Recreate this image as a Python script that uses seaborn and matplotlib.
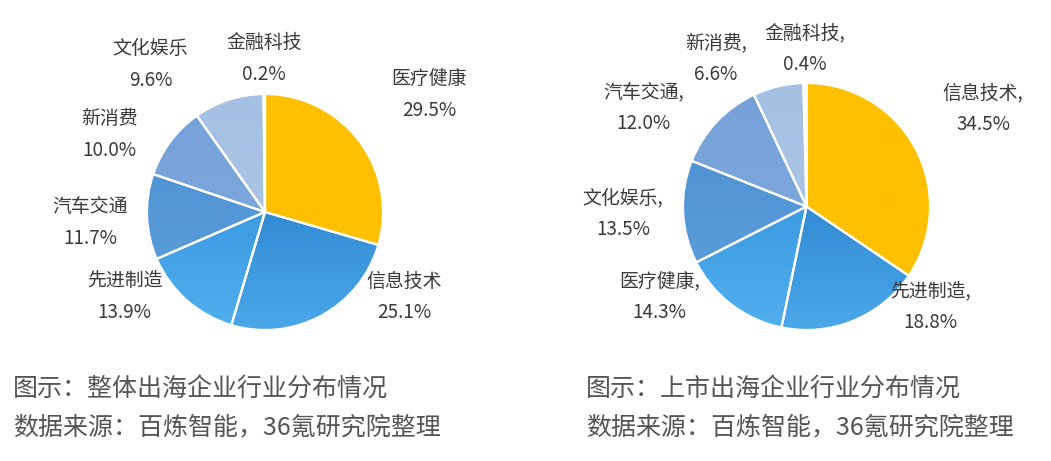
import numpy as np
import matplotlib
matplotlib.use("Agg")
import matplotlib.pyplot as plt
import matplotlib.colors as mcolors
import seaborn as sns

# ---------------- data ----------------
left_names = ["医疗健康", "信息技术", "先进制造", "汽车交通", "新消费", "文化娱乐", "金融科技"]
left_values = [29.5, 25.1, 13.9, 11.7, 10.0, 9.6, 0.2]
left_title = "图示：整体出海企业行业分布情况"

right_names = ["信息技术,", "先进制造,", "医疗健康,", "文化娱乐,", "汽车交通,", "新消费,", "金融科技,"]
right_values = [34.5, 18.8, 14.3, 13.5, 12.0, 6.6, 0.4]
right_title = "图示：上市出海企业行业分布情况"

source_text = "数据来源：百炼智能，36氪研究院整理"

# ---------------- style ----------------
sns.set_theme(style="white")
plt.rcParams["font.family"] = ["Noto Sans CJK SC", "DejaVu Sans"]

# gradient colours per slice position (top colour, bottom colour)
slice_colors = [
    ("#FFC000", "#FFC000"),
    ("#1A6FBE", "#4AA8EA"),
    ("#2484D2", "#52B0F0"),
    ("#4A8CCF", "#5FA2DE"),
    ("#76A1D8", "#82ACDF"),
    ("#A6C0E3", "#AFC8E8"),
    ("#CBD6EA", "#CFDAEC"),
]

# label anchor positions in units of pie radius (layout only)
left_label_pos = [(1.39, 1.00), (1.18, -0.72), (-1.19, -0.72), (-1.48, -0.09),
                  (-1.32, 0.66), (-0.97, 1.25), (-0.01, 1.305)]
right_label_pos = [(1.43, 0.79), (1.00, -0.81), (-1.19, -0.73), (-1.486, -0.057),
                   (-1.32, 0.80), (-0.733, 1.20), (-0.01, 1.28)]

LABEL_COLOR = "#3a3a3a"
CAPTION_COLOR = "#555555"

W, H = 1051, 461
fig = plt.figure(figsize=(W / 100, H / 100), dpi=100)
fig.patch.set_facecolor("white")


def draw_pie(cx, cy, r, values, names, label_pos):
    ax = fig.add_axes([(cx - r) / W, (H - cy - r) / H, 2 * r / W, 2 * r / H])
    ax.set_aspect("equal")
    ax.axis("off")
    wedges, _ = ax.pie(values, startangle=90, counterclock=False, radius=1,
                       colors=[c[0] for c in slice_colors],
                       wedgeprops=dict(linewidth=0), frame=False)
    grad = np.linspace(0, 1, 256).reshape(-1, 1)
    for w, (top, bot) in zip(wedges, slice_colors):
        cmap = mcolors.LinearSegmentedColormap.from_list("g", [top, bot])
        im = ax.imshow(grad, cmap=cmap, extent=(-1, 1, -1, 1), origin="upper",
                       aspect="auto", zorder=2, interpolation="bilinear")
        im.set_clip_path(w)
    ax.pie(values, startangle=90, counterclock=False, radius=1,
           colors=["none"] * len(values),
           wedgeprops=dict(linewidth=1.6, edgecolor="white", zorder=3), frame=False)
    ax.set_xlim(-1, 1)
    ax.set_ylim(-1, 1)
    half = 16.0 / r
    for name, val, (lx, ly) in zip(names, values, label_pos):
        ax.text(lx, ly + half, name, ha="center", va="center", fontsize=13.6,
                color=LABEL_COLOR, clip_on=False, zorder=5)
        ax.text(lx, ly - half, f"{val:.1f}%", ha="center", va="center", fontsize=13.6,
                color=LABEL_COLOR, clip_on=False, zorder=5)
    return ax


draw_pie(265, 212, 118, left_values, left_names, left_label_pos)
draw_pie(806.5, 206.5, 123.5, right_values, right_names, right_label_pos)

fig.text(13 / W, 1 - 389 / H, left_title, ha="left", va="center", fontsize=18, color=CAPTION_COLOR)
fig.text(13 / W, 1 - 427 / H, source_text, ha="left", va="center", fontsize=18, color=CAPTION_COLOR)
fig.text(586 / W, 1 - 389 / H, right_title, ha="left", va="center", fontsize=18, color=CAPTION_COLOR)
fig.text(586 / W, 1 - 427 / H, source_text, ha="left", va="center", fontsize=18, color=CAPTION_COLOR)

fig.savefig("out.png", dpi=100, facecolor="white")
